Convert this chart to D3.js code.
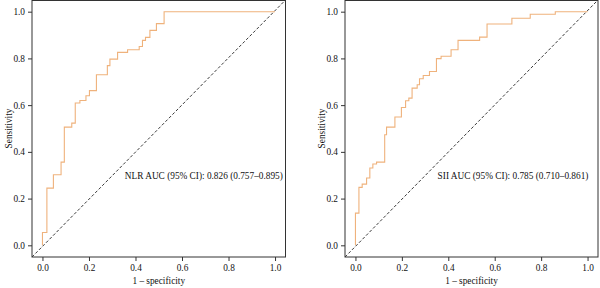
<!DOCTYPE html>
<html>
<head>
<meta charset="utf-8">
<script src="https://cdn.jsdelivr.net/npm/d3@7"></script>
<style>
  body { margin: 0; background: #fff; }
  svg text { font-family: "Liberation Serif", "Times New Roman", serif; fill: #111; }
</style>
</head>
<body>
<svg id="canvas"></svg>
<script>
let width = 600;
let height = 288;

// ROC corners: (fpr, tpr)
let nlrFpr = [0, 0, 0.019, 0.047, 0.080, 0.094, 0.126, 0.141, 0.161, 0.187, 0.202, 0.232, 0.279, 0.290, 0.323, 0.366, 0.416, 0.430, 0.443, 0.462, 0.490, 0.523, 1];
let nlrTpr = [0, 0.055, 0.245, 0.302, 0.356, 0.506, 0.523, 0.609, 0.620, 0.640, 0.662, 0.730, 0.769, 0.797, 0.826, 0.837, 0.851, 0.877, 0.890, 0.920, 0.949, 1, 1];

let siiFpr = [0, 0, 0.015, 0.029, 0.048, 0.062, 0.075, 0.091, 0.126, 0.134, 0.170, 0.198, 0.216, 0.230, 0.244, 0.266, 0.276, 0.292, 0.319, 0.349, 0.369, 0.412, 0.442, 0.535, 0.567, 0.674, 0.753, 0.861, 1];
let siiTpr = [0, 0.138, 0.248, 0.262, 0.288, 0.331, 0.348, 0.356, 0.473, 0.506, 0.549, 0.590, 0.619, 0.630, 0.673, 0.687, 0.713, 0.727, 0.744, 0.799, 0.809, 0.837, 0.877, 0.891, 0.947, 0.972, 0.989, 1, 1];

let ticks = [0, 0.2, 0.4, 0.6, 0.8, 1.0];
let labels = ["NLR AUC (95% CI): 0.826 (0.757–0.895)", "SII AUC (95% CI): 0.785 (0.710–0.861)"];

let lineColor = "#efb27c";

let canvas = d3.select("#canvas")
canvas.attr("width", width);
canvas.attr("height", height);

let drawPanel = (left, right, fpr, tpr, label) => {
    let top = 0;
    let bottom = 257;

    let xScale = d3.scaleLinear()
                .domain([-0.045, 1.045])
                .range([left, right]);
    let yScale = d3.scaleLinear()
                .domain([-0.05, 1.05])
                .range([bottom, top]);

    let g = canvas.append("g");

    // diagonal reference
    g.append("line")
     .attr("x1", xScale(-0.045))
     .attr("y1", yScale(-0.05))
     .attr("x2", xScale(1.045))
     .attr("y2", yScale(1.05))
     .attr("stroke", "#222")
     .attr("stroke-width", 0.9)
     .attr("stroke-dasharray", "3,2");

    let points = fpr.map((f, i) => [f, tpr[i]]);
    let line = d3.line()
                 .x((d) => xScale(d[0]))
                 .y((d) => yScale(d[1]))
                 .curve(d3.curveStepAfter);

    g.append("path")
     .datum(points)
     .attr("d", line)
     .attr("fill", "none")
     .attr("stroke", lineColor)
     .attr("stroke-width", 1.1);

    let xAxis = d3.axisBottom(xScale)
                  .tickValues(ticks)
                  .tickFormat(d3.format(".1f"))
                  .tickSize(4)
                  .tickSizeOuter(0);
    let yAxis = d3.axisLeft(yScale)
                  .tickValues(ticks)
                  .tickFormat(d3.format(".1f"))
                  .tickSize(4)
                  .tickSizeOuter(0);

    let xg = g.append("g")
              .attr("transform", "translate(0, " + bottom + ")")
              .call(xAxis);
    let yg = g.append("g")
              .attr("transform", "translate(" + left + ", 0)")
              .call(yAxis);

    [xg, yg].forEach((a) => {
        a.select(".domain").remove();
        a.selectAll("line").attr("stroke", "#333");
        a.selectAll("text")
         .style("font-family", "Liberation Serif")
         .style("font-size", "9.3px")
         .attr("fill", "#111");
    });
    xg.selectAll("text").attr("dy", "0.72em").attr("y", 7);
    yg.selectAll("text").attr("x", -7);

    // frame
    g.append("rect")
     .attr("x", left)
     .attr("y", top + 0.5)
     .attr("width", right - left)
     .attr("height", bottom - top - 0.5)
     .attr("fill", "none")
     .attr("stroke", "#333")
     .attr("stroke-width", 1);

    g.append("text")
     .attr("x", (left + right) / 2)
     .attr("y", 284)
     .attr("text-anchor", "middle")
     .style("font-size", "9.3px")
     .text("1 – specificity");

    g.append("text")
     .attr("transform", "translate(" + (left - 20) + ", " + ((top + bottom) / 2) + ") rotate(-90)")
     .attr("text-anchor", "middle")
     .style("font-size", "9.3px")
     .text("Sensitivity");

    g.append("text")
     .attr("x", xScale(0.354))
     .attr("y", yScale(0.285))
     .style("font-size", "9.3px")
     .text(label);
}

drawPanel(32, 285.5, nlrFpr, nlrTpr, labels[0]);
drawPanel(345, 598, siiFpr, siiTpr, labels[1]);
</script>
</body>
</html>
